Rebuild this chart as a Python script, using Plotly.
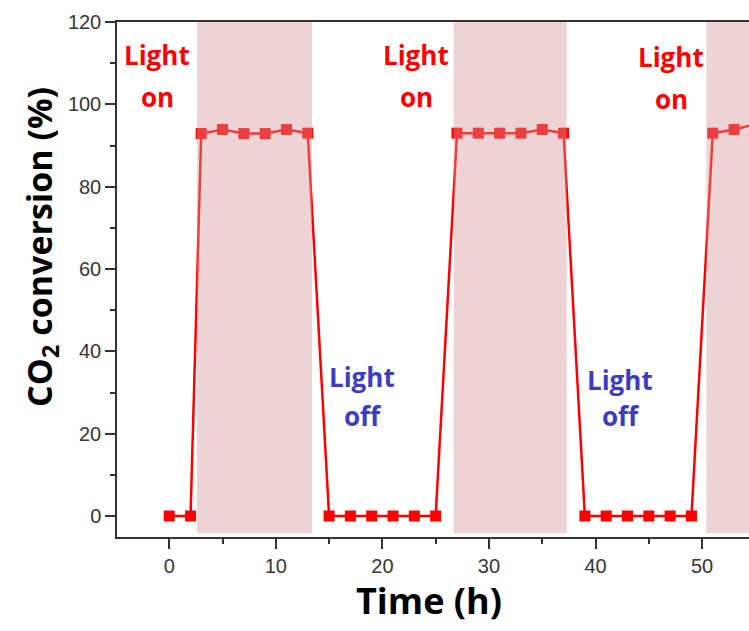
import plotly.graph_objects as go

# ---- data ----
time_h = [0, 2, 3, 5, 7, 9, 11, 13,
          15, 17, 19, 21, 23, 25,
          27, 29, 31, 33, 35, 37,
          39, 41, 43, 45, 47, 49,
          51, 53, 55]
conversion = [0, 0, 92.9, 93.9, 92.9, 92.9, 93.9, 93.0,
              0, 0, 0, 0, 0, 0,
              93.0, 93.0, 93.0, 93.0, 93.9, 93.0,
              0, 0, 0, 0, 0, 0,
              93.0, 93.9, 95.2]
light_on_start = [2.6, 26.7, 50.4]
light_on_end = [13.4, 37.3, 60]
x_ticks = [0, 10, 20, 30, 40, 50]
y_ticks = [0, 20, 40, 60, 80, 100, 120]

W, H = 749, 631
L, R, T, B = 117, 0, 22, 94
PW, PH = W - L - R, H - T - B


def px(x):
    return (x - L) / PW


def py(y):
    return (H - B - y) / PH


fig = go.Figure()
fig.add_trace(go.Scatter(
    x=time_h, y=conversion, mode="lines+markers",
    line=dict(color="#ff0000", width=2.5),
    marker=dict(symbol="square", size=11, color="#ff0000"),
    showlegend=False,
))

for a, b in zip(light_on_start, light_on_end):
    fig.add_shape(type="rect", xref="x", yref="y", x0=a, x1=b, y0=-4.1, y1=120,
                  fillcolor="rgba(212,150,150,0.42)", line=dict(width=0), layer="above")

lab_font = "Open Sans"
annots = [
    ("Light", 157, 55, "#ff0000"), ("on", 157, 97, "#ff0000"),
    ("Light", 416, 55, "#ff0000"), ("on", 416, 97, "#ff0000"),
    ("Light", 671, 57, "#ff0000"), ("on", 671, 99, "#ff0000"),
    ("Light", 362, 377, "#3b3bc4"), ("off", 363, 416, "#3b3bc4"),
    ("Light", 620, 380, "#3b3bc4"), ("off", 621, 416, "#3b3bc4"),
]
for txt, x, y, c in annots:
    fig.add_annotation(text="<b>%s</b>" % txt, xref="paper", yref="paper",
                       x=px(x), y=py(y), xanchor="center", yanchor="middle",
                       showarrow=False, font=dict(family=lab_font, size=26, color=c))

fig.add_annotation(text="<b>CO<sub>2</sub> conversion (%)</b>", xref="paper", yref="paper",
                   x=px(41), y=py(247), xanchor="center", yanchor="middle", textangle=-90,
                   showarrow=False, font=dict(family=lab_font, size=34, color="#000000"))
fig.add_annotation(text="<b>Time (h)</b>", xref="paper", yref="paper",
                   x=px(429), y=py(600), xanchor="center", yanchor="middle",
                   showarrow=False, font=dict(family=lab_font, size=36, color="#000000"))

tick_font = dict(family="Liberation Sans, Arial", size=20, color="#363636")
fig.update_layout(
    width=W, height=H,
    margin=dict(l=L, r=R, t=T, b=B),
    paper_bgcolor="white", plot_bgcolor="white",
    xaxis=dict(range=[-4.9, 54.4], tickvals=x_ticks, ticks="outside", ticklen=10,
               tickwidth=1.5, tickcolor="#333", showline=True, linecolor="#333",
               linewidth=1.5, mirror=True, showgrid=False, zeroline=False,
               tickfont=tick_font,
               minor=dict(dtick=5, tick0=5, ticks="outside", ticklen=5, tickwidth=1.5,
                          tickcolor="#333", showgrid=False)),
    yaxis=dict(range=[-5.1, 120], tickvals=y_ticks, ticks="outside", ticklen=10,
               tickwidth=1.5, tickcolor="#333", showline=True, linecolor="#333",
               linewidth=1.5, showgrid=False, zeroline=False,
               tickfont=tick_font,
               minor=dict(dtick=10, tick0=10, ticks="outside", ticklen=5, tickwidth=1.5,
                          tickcolor="#333", showgrid=False)),
)

fig.write_html("out.html")
